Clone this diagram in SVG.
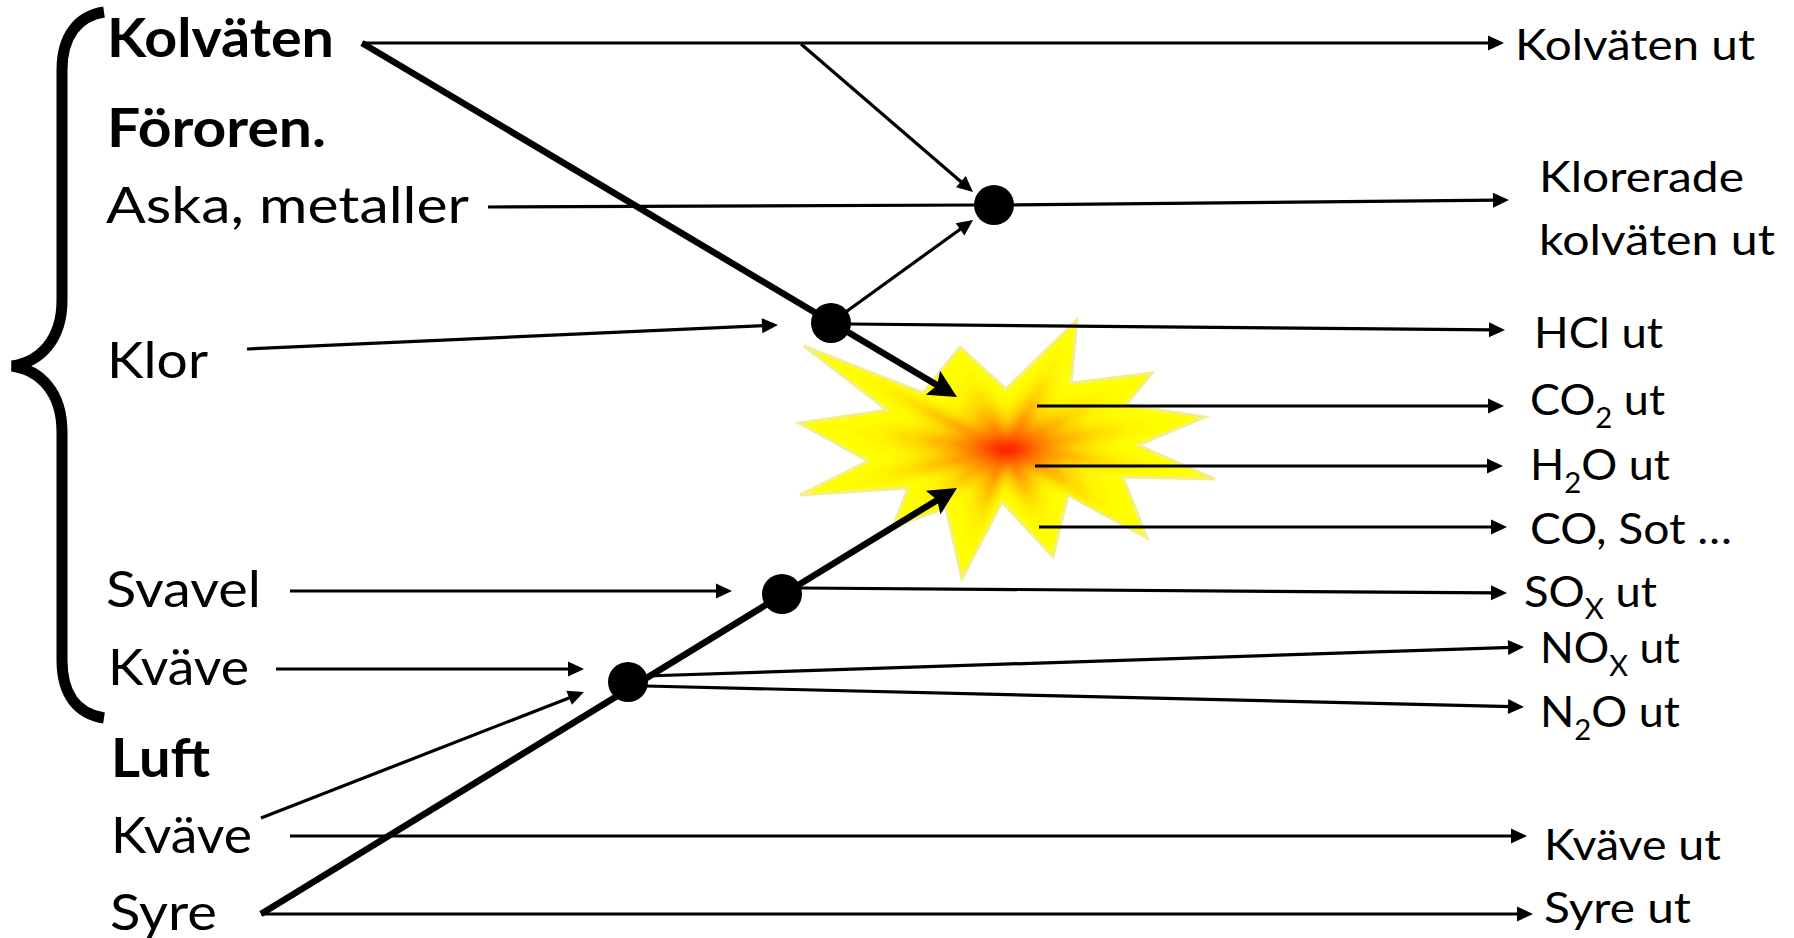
<svg xmlns="http://www.w3.org/2000/svg" width="1794" height="938" viewBox="0 0 1794 938">
  <defs>
    <style>
      .t { font-family: Lato, "Open Sans", "Liberation Sans", sans-serif; fill: #000; }
      .lb { font-size: 53px; font-weight: 700; }
      .lr { font-size: 51px; }
      .r { font-size: 43px; }
      .sub { font-size: 28px; }
      .thin { stroke: #000; stroke-width: 3.2; fill: none; marker-end: url(#ah); }
      .plain { stroke: #000; stroke-width: 3.2; fill: none; }
      .thick { stroke: #000; stroke-width: 6.5; fill: none; marker-end: url(#ahb); }
      .node { fill: #000; }
    </style>
    <marker id="ah" markerUnits="userSpaceOnUse" viewBox="-6 -10 24 20" markerWidth="24" markerHeight="20" refX="0" refY="0" orient="auto" overflow="visible">
      <path d="M-4,-7.5 L12,0 L-4,7.5 Z" fill="#000"/>
    </marker>
    <marker id="ahb" markerUnits="userSpaceOnUse" viewBox="-10 -16 32 32" markerWidth="32" markerHeight="32" refX="0" refY="0" orient="auto" overflow="visible">
      <path d="M-8,-14 L20,0 L-8,14 L-3,0 Z" fill="#000"/>
    </marker>
    <polygon id="starShape" points="70,-130 64,-67 145,-77 119,-45 198,-33 131,-5 208,29 116,27 140,88 61,45 46,107 -5,52 -45,129 -61,58 -114,77 -99,38 -207,45 -139,11 -208,-27 -120,-40 -203,-104 -84,-57 -47,-103 -1,-61"/>
    <clipPath id="starClip">
      <use href="#starShape"/>
    </clipPath>
    <filter id="soft" x="-20%" y="-20%" width="140%" height="140%">
      <feGaussianBlur stdDeviation="4.5"/>
    </filter>
  </defs>

  <rect width="1794" height="938" fill="#fff"/>

  <!-- burst: combustion zone, shaded from red core to yellow tips -->
  <g id="flame" transform="translate(1007 450)">
    <use href="#starShape" fill="#FFFF00" stroke="#F2EE8C" stroke-width="3"/>
    <g clip-path="url(#starClip)">
      <g filter="url(#soft)">
        <use href="#starShape" fill="#FFF500" transform="scale(0.78)"/>
        <use href="#starShape" fill="#FFDC00" transform="scale(0.6)"/>
        <use href="#starShape" fill="#FFB400" transform="scale(0.44)"/>
        <use href="#starShape" fill="#FF8400" transform="scale(0.3)"/>
        <use href="#starShape" fill="#FF5000" transform="scale(0.18)"/>
        <use href="#starShape" fill="#FF1E00" transform="scale(0.09)"/>
      </g>
    </g>
  </g>

  <!-- left brace grouping the fuel components -->
  <g id="brace">
    <path d="M104 12 C78 16 62 36 62 70 L62 300 C62 340 40 362 12 366 C40 370 62 392 62 432 L62 660 C62 695 78 714 104 718" fill="none" stroke="#000" stroke-width="11"/>
  </g>

  <g id="connectors">
    <!-- hydrocarbons -->
    <line class="thin" x1="362" y1="43" x2="1492" y2="43"/>
    <line class="thin" x1="801" y1="44" x2="963.9" y2="184.2"/>
    <line class="thick" x1="362" y1="43" x2="939.8" y2="386.8"/>
    <!-- ash / metals through the chlorination junction -->
    <line class="plain" x1="488" y1="207" x2="976" y2="205"/>
    <line class="thin" x1="1012" y1="205" x2="1497" y2="200.1"/>
    <!-- chlorine -->
    <line class="thin" x1="247" y1="349" x2="766" y2="325.5"/>
    <line class="thin" x1="843" y1="314" x2="963.3" y2="227"/>
    <line class="thin" x1="849" y1="324" x2="1493" y2="329.9"/>
    <!-- combustion products -->
    <line class="thin" x1="1037" y1="406" x2="1492" y2="406"/>
    <line class="thin" x1="1035" y1="466" x2="1491" y2="466"/>
    <line class="thin" x1="1039" y1="527" x2="1495" y2="527"/>
    <!-- sulphur -->
    <line class="thin" x1="290" y1="591" x2="720" y2="591"/>
    <line class="thin" x1="800" y1="588" x2="1495" y2="592.9"/>
    <!-- fuel nitrogen -->
    <line class="thin" x1="276" y1="669" x2="572" y2="669"/>
    <line class="thin" x1="646" y1="676" x2="1512" y2="647.4"/>
    <line class="thin" x1="646" y1="686" x2="1512" y2="706.7"/>
    <!-- air -->
    <line class="thin" x1="261" y1="818" x2="572.8" y2="696.4"/>
    <line class="thin" x1="290" y1="836" x2="1515" y2="836"/>
    <line class="thin" x1="261" y1="914" x2="1521" y2="914"/>
    <line class="thick" x1="261" y1="914" x2="939.9" y2="498.4"/>
  </g>

  <g id="junction-chlorination"><circle class="node" cx="994" cy="205" r="20"/></g>
  <g id="junction-hcl"><circle class="node" cx="831" cy="323" r="20"/></g>
  <g id="junction-sox"><circle class="node" cx="782" cy="594" r="20"/></g>
  <g id="junction-nox"><circle class="node" cx="628" cy="682" r="20"/></g>

  <!-- inputs -->
  <g id="in-kolvaten"><text class="t lb" x="107" y="57" textLength="227" lengthAdjust="spacingAndGlyphs">Kolväten</text></g>
  <g id="in-fororen"><text class="t lb" x="107" y="147" textLength="219" lengthAdjust="spacingAndGlyphs">Föroren.</text></g>
  <g id="in-aska"><text class="t lr" x="106" y="223" textLength="363" lengthAdjust="spacingAndGlyphs">Aska, metaller</text></g>
  <g id="in-klor"><text class="t lr" x="107" y="378" textLength="101" lengthAdjust="spacingAndGlyphs">Klor</text></g>
  <g id="in-svavel"><text class="t lr" x="106" y="607" textLength="155" lengthAdjust="spacingAndGlyphs">Svavel</text></g>
  <g id="in-kvave"><text class="t lr" x="108" y="685" textLength="141" lengthAdjust="spacingAndGlyphs">Kväve</text></g>
  <g id="in-luft"><text class="t lb" x="111" y="777" textLength="99" lengthAdjust="spacingAndGlyphs">Luft</text></g>
  <g id="in-luft-kvave"><text class="t lr" x="111" y="853" textLength="141" lengthAdjust="spacingAndGlyphs">Kväve</text></g>
  <g id="in-syre"><text class="t lr" x="110" y="930" textLength="107" lengthAdjust="spacingAndGlyphs">Syre</text></g>

  <!-- outputs -->
  <g id="out-kolvaten"><text class="t r" x="1515" y="60" textLength="240" lengthAdjust="spacingAndGlyphs">Kolväten ut</text></g>
  <g id="out-klorerade">
    <text class="t r" x="1539" y="192" textLength="205" lengthAdjust="spacingAndGlyphs">Klorerade</text>
    <text class="t r" x="1539" y="255" textLength="236" lengthAdjust="spacingAndGlyphs">kolväten ut</text>
  </g>
  <g id="out-hcl"><text class="t r" x="1534" y="348" textLength="129" lengthAdjust="spacingAndGlyphs">HCl ut</text></g>
  <g id="out-co2"><text class="t r" x="1530" y="415" textLength="135" lengthAdjust="spacingAndGlyphs">CO<tspan class="sub" dy="13">2</tspan><tspan dy="-13"> ut</tspan></text></g>
  <g id="out-h2o"><text class="t r" x="1530" y="480" textLength="140" lengthAdjust="spacingAndGlyphs">H<tspan class="sub" dy="13">2</tspan><tspan dy="-13">O ut</tspan></text></g>
  <g id="out-co"><text class="t r" x="1530" y="544" textLength="202" lengthAdjust="spacingAndGlyphs">CO, Sot …</text></g>
  <g id="out-sox"><text class="t r" x="1524" y="607" textLength="133" lengthAdjust="spacingAndGlyphs">SO<tspan class="sub" dy="12">X</tspan><tspan dy="-12"> ut</tspan></text></g>
  <g id="out-nox"><text class="t r" x="1540" y="663" textLength="140" lengthAdjust="spacingAndGlyphs">NO<tspan class="sub" dy="13">X</tspan><tspan dy="-13"> ut</tspan></text></g>
  <g id="out-n2o"><text class="t r" x="1540" y="727" textLength="140" lengthAdjust="spacingAndGlyphs">N<tspan class="sub" dy="13">2</tspan><tspan dy="-13">O ut</tspan></text></g>
  <g id="out-kvave"><text class="t r" x="1544" y="860" textLength="177" lengthAdjust="spacingAndGlyphs">Kväve ut</text></g>
  <g id="out-syre"><text class="t r" x="1544" y="923" textLength="147" lengthAdjust="spacingAndGlyphs">Syre ut</text></g>
</svg>
